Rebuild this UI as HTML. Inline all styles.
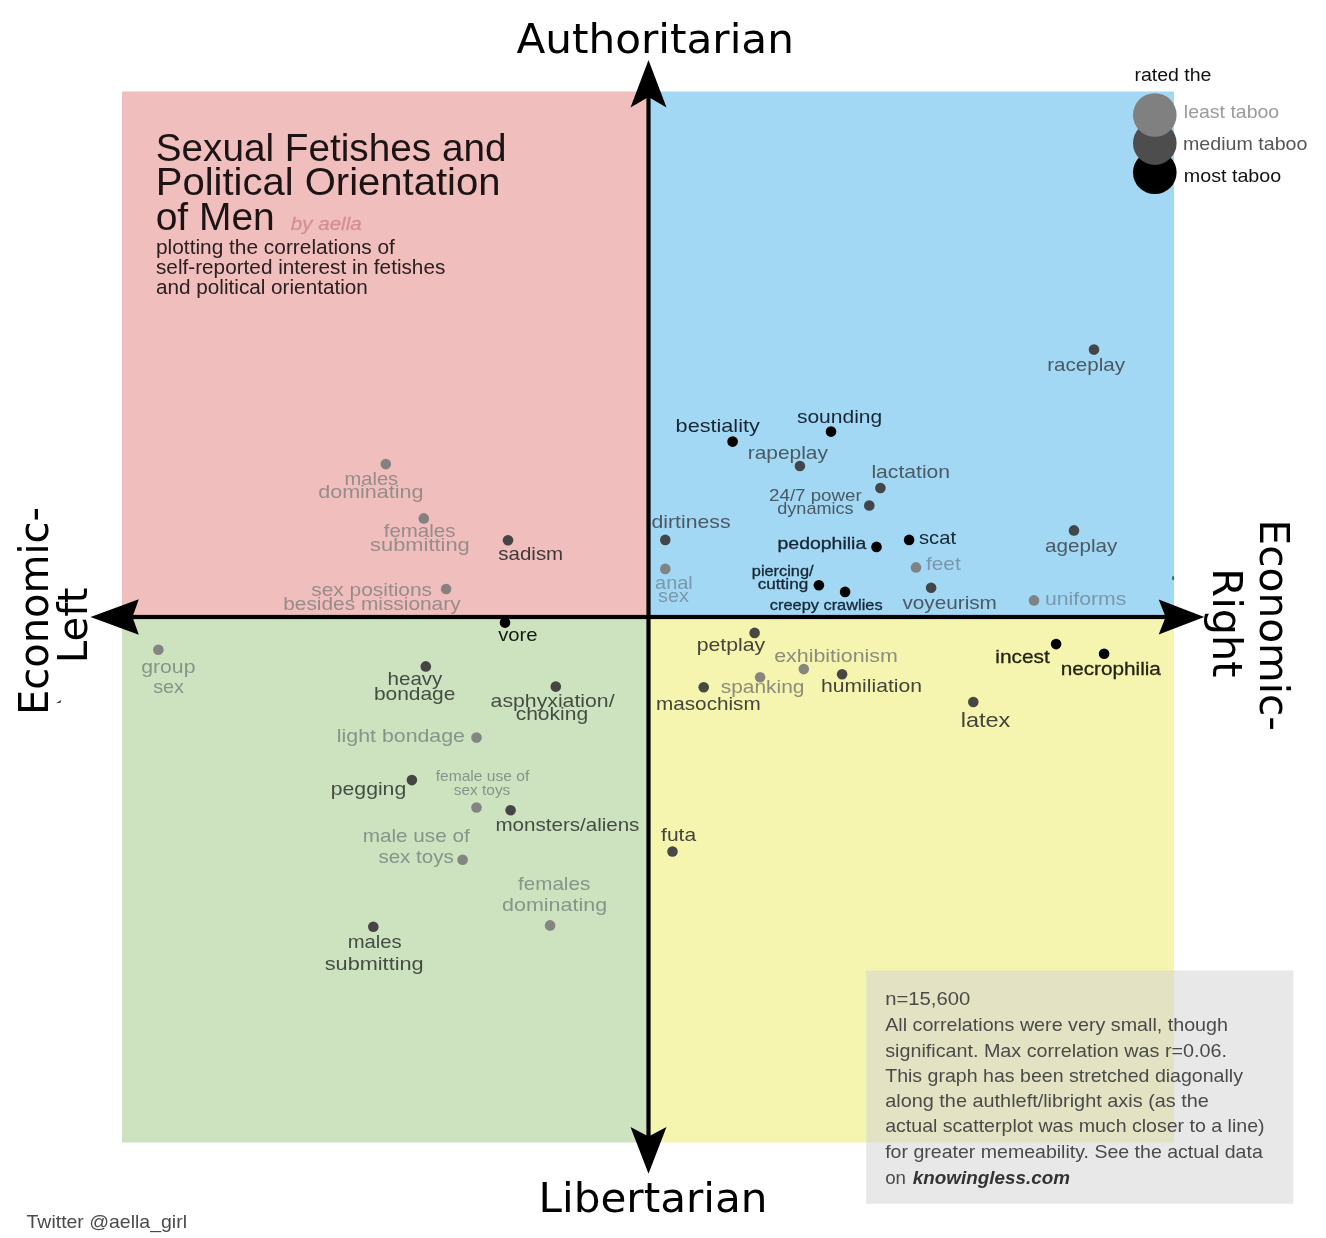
<!DOCTYPE html>
<html lang="en"><head><meta charset="utf-8"><title>Sexual Fetishes and Political Orientation of Men</title>
<style>html,body{margin:0;padding:0;background:#fff}svg{display:block}text{font-family:"Liberation Sans",Arial,sans-serif}.dj{font-family:"DejaVu Sans","Liberation Sans",sans-serif}</style></head><body>
<svg width="1326" height="1238" viewBox="0 0 1326 1238">
<rect width="1326" height="1238" fill="#fff"/>
<rect x="122" y="91.5" width="526.5" height="525.5" fill="#f0bebc"/>
<rect x="648.5" y="91.5" width="525.5" height="525.5" fill="#a3d8f4"/>
<rect x="122" y="617" width="526.5" height="525.5" fill="#cde3bf"/>
<rect x="648.5" y="617" width="525.5" height="525.5" fill="#f5f5b0"/>
<g fill="#000" stroke="none">
<rect x="646.4" y="90" width="4.2" height="1050"/>
<rect x="125" y="614.9" width="1045" height="4.2"/>
<path d="M648.5 60 L666.5 107.5 L648.5 97 L630.5 107.5 Z"/>
<path d="M648.5 1173.7 L666.5 1127 L648.5 1136.5 L630.5 1127 Z"/>
<path d="M90.5 617 L138.8 599.3 L132.5 617 L138.8 634.7 Z"/>
<path d="M1204.3 617 L1158.7 599.5 L1165.6 617 L1158.7 634.5 Z"/>
</g>
<text class="dj" x="516.4" y="53" font-size="41" textLength="277.5" lengthAdjust="spacingAndGlyphs" fill="#000">Authoritarian</text>
<text class="dj" x="538.5" y="1211.6" font-size="41" textLength="229" lengthAdjust="spacingAndGlyphs" fill="#000">Libertarian</text>
<text class="dj" transform="translate(47.5 715) rotate(-90)" font-size="41.5" textLength="208" lengthAdjust="spacingAndGlyphs" fill="#000">Economic-</text>
<text class="dj" transform="translate(86.8 663.2) rotate(-90)" font-size="41.5" textLength="75.7" lengthAdjust="spacingAndGlyphs" fill="#000">Left</text>
<text class="dj" transform="translate(1259.5 519.5) rotate(90)" font-size="41.5" textLength="211.5" lengthAdjust="spacingAndGlyphs" fill="#000">Economic-</text>
<text class="dj" transform="translate(1213.4 568.3) rotate(90)" font-size="41.5" textLength="109.3" lengthAdjust="spacingAndGlyphs" fill="#000">Right</text>
<text x="155.7" y="160.7" font-size="39" textLength="350.8" lengthAdjust="spacingAndGlyphs" fill="#1c1414">Sexual Fetishes and</text>
<text x="155.7" y="195.4" font-size="39" textLength="344.8" lengthAdjust="spacingAndGlyphs" fill="#1c1414">Political Orientation</text>
<text x="155.7" y="230.1" font-size="39" textLength="119.1" lengthAdjust="spacingAndGlyphs" fill="#1c1414">of Men</text>
<text x="290.8" y="230.0" font-size="19" font-style="italic" textLength="70.9" lengthAdjust="spacingAndGlyphs" fill="#d58e98" stroke="#d58e98" stroke-width="0.3">by aella</text>
<text x="156.0" y="253.6" font-size="19.3" textLength="238.9" lengthAdjust="spacingAndGlyphs" fill="#2a2020">plotting the correlations of</text>
<text x="156.0" y="273.8" font-size="19.3" textLength="289.3" lengthAdjust="spacingAndGlyphs" fill="#2a2020">self-reported interest in fetishes</text>
<text x="156.0" y="294.4" font-size="19.3" textLength="211.8" lengthAdjust="spacingAndGlyphs" fill="#2a2020">and political orientation</text>
<text x="1134.4" y="80.7" font-size="18" textLength="77.1" lengthAdjust="spacingAndGlyphs" fill="#111">rated the</text>
<circle cx="1154.8" cy="172.3" r="21.8" fill="#000"/>
<circle cx="1154.8" cy="143.2" r="21.8" fill="#4d4d4d"/>
<circle cx="1154.8" cy="115" r="21.8" fill="#808080"/>
<text x="1183.8" y="117.9" font-size="19" textLength="95.4" lengthAdjust="spacingAndGlyphs" fill="#9a9a9a">least taboo</text>
<text x="1183.0" y="149.6" font-size="19" textLength="124.4" lengthAdjust="spacingAndGlyphs" fill="#555">medium taboo</text>
<text x="1183.8" y="181.9" font-size="19" textLength="97.4" lengthAdjust="spacingAndGlyphs" fill="#111">most taboo</text>
<circle cx="385.8" cy="464.1" r="5.3" fill="#7a7a7a" fill-opacity="0.9"/>
<circle cx="423.8" cy="518.4" r="5.3" fill="#7a7a7a" fill-opacity="0.9"/>
<circle cx="508" cy="540.2" r="5.3" fill="#3a3a3a" fill-opacity="0.93"/>
<circle cx="446.1" cy="589" r="5.3" fill="#7a7a7a" fill-opacity="0.9"/>
<circle cx="505" cy="622.6" r="5.3" fill="#000" fill-opacity="1"/>
<circle cx="158.4" cy="649.8" r="5.3" fill="#7a7a7a" fill-opacity="0.9"/>
<circle cx="425.8" cy="666.4" r="5.3" fill="#3a3a3a" fill-opacity="0.93"/>
<circle cx="555.8" cy="686.6" r="5.3" fill="#3a3a3a" fill-opacity="0.93"/>
<circle cx="476.5" cy="737.6" r="5.3" fill="#7a7a7a" fill-opacity="0.9"/>
<circle cx="411.9" cy="780.1" r="5.3" fill="#3a3a3a" fill-opacity="0.93"/>
<circle cx="476.5" cy="807.5" r="5.3" fill="#7a7a7a" fill-opacity="0.9"/>
<circle cx="510.6" cy="810.2" r="5.3" fill="#3a3a3a" fill-opacity="0.93"/>
<circle cx="462.6" cy="859.7" r="5.3" fill="#7a7a7a" fill-opacity="0.9"/>
<circle cx="550.1" cy="925.4" r="5.3" fill="#7a7a7a" fill-opacity="0.9"/>
<circle cx="373.3" cy="926.7" r="5.3" fill="#3a3a3a" fill-opacity="0.93"/>
<circle cx="732.6" cy="441.6" r="5.3" fill="#000" fill-opacity="1"/>
<circle cx="831" cy="431.6" r="5.3" fill="#000" fill-opacity="1"/>
<circle cx="799.9" cy="466" r="5.3" fill="#3a3a3a" fill-opacity="0.93"/>
<circle cx="880.4" cy="488" r="5.3" fill="#3a3a3a" fill-opacity="0.93"/>
<circle cx="869.3" cy="505.5" r="5.3" fill="#3a3a3a" fill-opacity="0.93"/>
<circle cx="665.3" cy="539.9" r="5.3" fill="#3a3a3a" fill-opacity="0.93"/>
<circle cx="876.5" cy="546.9" r="5.3" fill="#000" fill-opacity="1"/>
<circle cx="909.1" cy="539.9" r="5.3" fill="#000" fill-opacity="1"/>
<circle cx="916" cy="567.4" r="5.3" fill="#7a7a7a" fill-opacity="0.9"/>
<circle cx="665.3" cy="568.9" r="5.3" fill="#7a7a7a" fill-opacity="0.9"/>
<circle cx="818.9" cy="585.2" r="5.3" fill="#000" fill-opacity="1"/>
<circle cx="845.1" cy="591.9" r="5.3" fill="#000" fill-opacity="1"/>
<circle cx="931.1" cy="587.7" r="5.3" fill="#3a3a3a" fill-opacity="0.93"/>
<circle cx="1034" cy="600.4" r="5.3" fill="#7a7a7a" fill-opacity="0.9"/>
<circle cx="1074" cy="530.4" r="5.3" fill="#3a3a3a" fill-opacity="0.93"/>
<circle cx="1094" cy="349.6" r="5.3" fill="#3a3a3a" fill-opacity="0.93"/>
<circle cx="754.6" cy="632.9" r="5.3" fill="#3a3a3a" fill-opacity="0.93"/>
<circle cx="803.8" cy="669.1" r="5.3" fill="#7a7a7a" fill-opacity="0.9"/>
<circle cx="760.1" cy="677.3" r="5.3" fill="#7a7a7a" fill-opacity="0.9"/>
<circle cx="842.1" cy="674.2" r="5.3" fill="#3a3a3a" fill-opacity="0.93"/>
<circle cx="703.7" cy="687.2" r="5.3" fill="#3a3a3a" fill-opacity="0.93"/>
<circle cx="973.3" cy="702" r="5.3" fill="#3a3a3a" fill-opacity="0.93"/>
<circle cx="1056.1" cy="644.1" r="5.3" fill="#000" fill-opacity="1"/>
<circle cx="1104.1" cy="653.7" r="5.3" fill="#000" fill-opacity="1"/>
<circle cx="672.5" cy="851.5" r="5.3" fill="#3a3a3a" fill-opacity="0.93"/>
<text x="344.5" y="484.6" font-size="18.6" textLength="53.7" lengthAdjust="spacingAndGlyphs" fill="#978c8b">males</text>
<text x="318.2" y="498.2" font-size="18.6" textLength="105.3" lengthAdjust="spacingAndGlyphs" fill="#978c8b">dominating</text>
<text x="383.7" y="537.1" font-size="18.6" textLength="71.8" lengthAdjust="spacingAndGlyphs" fill="#978c8b">females</text>
<text x="370.1" y="551.0" font-size="18.6" textLength="99.6" lengthAdjust="spacingAndGlyphs" fill="#978c8b">submitting</text>
<text x="498.3" y="560.0" font-size="18.6" textLength="64.9" lengthAdjust="spacingAndGlyphs" fill="#3f3a3a">sadism</text>
<text x="311.3" y="596.3" font-size="18.6" textLength="120.7" lengthAdjust="spacingAndGlyphs" fill="#978c8b">sex positions</text>
<text x="283.2" y="609.5" font-size="18.6" textLength="177.4" lengthAdjust="spacingAndGlyphs" fill="#978c8b">besides missionary</text>
<text x="498.2" y="640.6" font-size="18.6" textLength="39.4" lengthAdjust="spacingAndGlyphs" fill="#141c14">vore</text>
<text x="141.2" y="673.0" font-size="18.6" textLength="54.3" lengthAdjust="spacingAndGlyphs" fill="#84958a">group</text>
<text x="153.2" y="692.7" font-size="18.6" textLength="30.8" lengthAdjust="spacingAndGlyphs" fill="#84958a">sex</text>
<text x="387.5" y="685.4" font-size="18.6" textLength="54.9" lengthAdjust="spacingAndGlyphs" fill="#444d44">heavy</text>
<text x="373.9" y="699.6" font-size="18.6" textLength="81.5" lengthAdjust="spacingAndGlyphs" fill="#444d44">bondage</text>
<text x="490.6" y="706.5" font-size="18.6" textLength="124.0" lengthAdjust="spacingAndGlyphs" fill="#444d44">asphyxiation/</text>
<text x="515.7" y="719.5" font-size="18.6" textLength="72.4" lengthAdjust="spacingAndGlyphs" fill="#444d44">choking</text>
<text x="336.8" y="742.1" font-size="18.6" textLength="128.2" lengthAdjust="spacingAndGlyphs" fill="#84958a">light bondage</text>
<text x="330.8" y="794.6" font-size="18.6" textLength="75.4" lengthAdjust="spacingAndGlyphs" fill="#444d44">pegging</text>
<text x="435.7" y="781.3" font-size="14.5" textLength="93.6" lengthAdjust="spacingAndGlyphs" fill="#84958a">female use of</text>
<text x="453.8" y="794.6" font-size="14.5" textLength="56.5" lengthAdjust="spacingAndGlyphs" fill="#84958a">sex toys</text>
<text x="495.5" y="831.3" font-size="18.6" textLength="143.9" lengthAdjust="spacingAndGlyphs" fill="#444d44">monsters/aliens</text>
<text x="362.7" y="841.9" font-size="18.6" textLength="107.1" lengthAdjust="spacingAndGlyphs" fill="#84958a">male use of</text>
<text x="378.4" y="863.3" font-size="18.6" textLength="75.4" lengthAdjust="spacingAndGlyphs" fill="#84958a">sex toys</text>
<text x="518.1" y="889.5" font-size="18.6" textLength="72.1" lengthAdjust="spacingAndGlyphs" fill="#84958a">females</text>
<text x="502.1" y="910.7" font-size="18.6" textLength="105.0" lengthAdjust="spacingAndGlyphs" fill="#84958a">dominating</text>
<text x="347.7" y="948.4" font-size="18.6" textLength="54.0" lengthAdjust="spacingAndGlyphs" fill="#444d44">males</text>
<text x="324.7" y="969.5" font-size="18.6" textLength="99.0" lengthAdjust="spacingAndGlyphs" fill="#444d44">submitting</text>
<text x="661.1" y="841.3" font-size="18.6" textLength="35.0" lengthAdjust="spacingAndGlyphs" fill="#44443a">futa</text>
<text x="675.6" y="432.2" font-size="18.6" textLength="84.2" lengthAdjust="spacingAndGlyphs" fill="#162635">bestiality</text>
<text x="796.9" y="423.2" font-size="18.6" textLength="85.3" lengthAdjust="spacingAndGlyphs" fill="#162635">sounding</text>
<text x="747.7" y="458.8" font-size="18.6" textLength="80.3" lengthAdjust="spacingAndGlyphs" fill="#4a5963">rapeplay</text>
<text x="871.4" y="477.5" font-size="18.6" textLength="78.7" lengthAdjust="spacingAndGlyphs" fill="#4a5963">lactation</text>
<text x="769.1" y="501.0" font-size="16.6" textLength="92.6" lengthAdjust="spacingAndGlyphs" fill="#4a5963">24/7 power</text>
<text x="777.3" y="513.7" font-size="16.6" textLength="76.3" lengthAdjust="spacingAndGlyphs" fill="#4a5963">dynamics</text>
<text x="651.5" y="527.9" font-size="18.6" textLength="79.0" lengthAdjust="spacingAndGlyphs" fill="#4a5963">dirtiness</text>
<text x="777.5" y="548.6" font-size="16.2" textLength="88.7" lengthAdjust="spacingAndGlyphs" fill="#162635" stroke="#162635" stroke-width="0.3">pedophilia</text>
<text x="919.0" y="544.4" font-size="17.8" textLength="37.0" lengthAdjust="spacingAndGlyphs" fill="#162635">scat</text>
<text x="926.0" y="570.1" font-size="18.6" textLength="34.7" lengthAdjust="spacingAndGlyphs" fill="#7a97ab">feet</text>
<text x="655.1" y="588.9" font-size="18.6" textLength="37.7" lengthAdjust="spacingAndGlyphs" fill="#7a97ab">anal</text>
<text x="658.1" y="602.4" font-size="18.6" textLength="30.8" lengthAdjust="spacingAndGlyphs" fill="#7a97ab">sex</text>
<text x="751.8" y="575.8" font-size="14.2" textLength="61.8" lengthAdjust="spacingAndGlyphs" fill="#162635" stroke="#162635" stroke-width="0.3">piercing/</text>
<text x="757.8" y="589.0" font-size="14.2" textLength="50.4" lengthAdjust="spacingAndGlyphs" fill="#162635" stroke="#162635" stroke-width="0.3">cutting</text>
<text x="769.8" y="609.8" font-size="14.2" textLength="112.8" lengthAdjust="spacingAndGlyphs" fill="#162635" stroke="#162635" stroke-width="0.3">creepy crawlies</text>
<text x="902.4" y="608.8" font-size="18.6" textLength="94.5" lengthAdjust="spacingAndGlyphs" fill="#4a5963">voyeurism</text>
<text x="1045.0" y="605.4" font-size="18.6" textLength="81.4" lengthAdjust="spacingAndGlyphs" fill="#7a97ab">uniforms</text>
<text x="1045.0" y="551.6" font-size="18.6" textLength="72.3" lengthAdjust="spacingAndGlyphs" fill="#4a5963">ageplay</text>
<text x="1047.2" y="370.5" font-size="18.6" textLength="77.9" lengthAdjust="spacingAndGlyphs" fill="#4a5963">raceplay</text>
<text x="696.7" y="650.7" font-size="18.6" textLength="68.5" lengthAdjust="spacingAndGlyphs" fill="#44443a">petplay</text>
<text x="774.2" y="661.6" font-size="18.6" textLength="123.7" lengthAdjust="spacingAndGlyphs" fill="#8c8c7c">exhibitionism</text>
<text x="720.8" y="693.2" font-size="18.6" textLength="83.6" lengthAdjust="spacingAndGlyphs" fill="#8c8c7c">spanking</text>
<text x="821.0" y="692.3" font-size="18.6" textLength="101.0" lengthAdjust="spacingAndGlyphs" fill="#44443a">humiliation</text>
<text x="656.0" y="710.4" font-size="18.6" textLength="104.7" lengthAdjust="spacingAndGlyphs" fill="#44443a">masochism</text>
<text x="960.7" y="727.0" font-size="21" textLength="49.7" lengthAdjust="spacingAndGlyphs" fill="#44443a">latex</text>
<text x="995.3" y="662.8" font-size="18.6" textLength="54.4" lengthAdjust="spacingAndGlyphs" fill="#25250f" stroke="#25250f" stroke-width="0.3">incest</text>
<text x="1060.7" y="675.3" font-size="18" textLength="100.2" lengthAdjust="spacingAndGlyphs" fill="#25250f" stroke="#25250f" stroke-width="0.3">necrophilia</text>
<path d="M56 703.3 L61.2 700 L60.6 702.8 Z" fill="#333"/>
<ellipse cx="1173.1" cy="578.1" rx="1.2" ry="2.2" fill="#3f6882"/>
<rect x="866.2" y="970.5" width="427.1" height="233.3" fill="#d5d5d5" fill-opacity="0.545"/>
<text x="885.2" y="1004.9" font-size="19" textLength="85.0" lengthAdjust="spacingAndGlyphs" fill="#4a4a4a">n=15,600</text>
<text x="885.2" y="1030.8" font-size="19" textLength="342.8" lengthAdjust="spacingAndGlyphs" fill="#4a4a4a">All correlations were very small, though</text>
<text x="885.2" y="1056.6" font-size="19" textLength="341.7" lengthAdjust="spacingAndGlyphs" fill="#4a4a4a">significant. Max correlation was r=0.06.</text>
<text x="885.2" y="1081.7" font-size="19" textLength="357.8" lengthAdjust="spacingAndGlyphs" fill="#4a4a4a">This graph has been stretched diagonally</text>
<text x="885.2" y="1107.2" font-size="19" textLength="323.7" lengthAdjust="spacingAndGlyphs" fill="#4a4a4a">along the authleft/libright axis (as the</text>
<text x="885.2" y="1132.3" font-size="19" textLength="379.4" lengthAdjust="spacingAndGlyphs" fill="#4a4a4a">actual scatterplot was much closer to a line)</text>
<text x="885.2" y="1158.2" font-size="19" textLength="377.6" lengthAdjust="spacingAndGlyphs" fill="#4a4a4a">for greater memeability. See the actual data</text>
<text x="885.2" y="1184.0" font-size="19" textLength="20.8" lengthAdjust="spacingAndGlyphs" fill="#4a4a4a">on</text>
<text x="912.8" y="1184.0" font-size="19" font-weight="700" font-style="italic" textLength="157.2" lengthAdjust="spacingAndGlyphs" fill="#333">knowingless.com</text>
<text x="26.5" y="1227.8" font-size="18.5" textLength="160.5" lengthAdjust="spacingAndGlyphs" fill="#4a4a4a">Twitter @aella_girl</text>
</svg></body></html>
